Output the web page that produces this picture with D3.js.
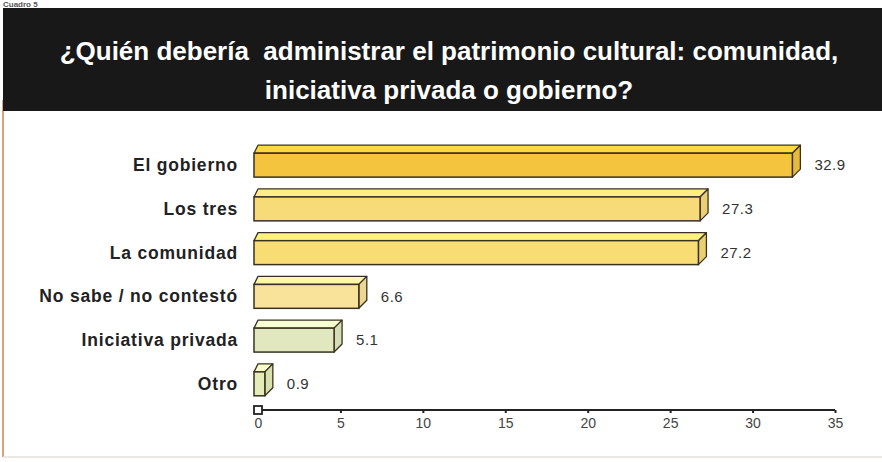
<!DOCTYPE html>
<html>
<head>
<meta charset="utf-8">
<script src="https://cdn.jsdelivr.net/npm/d3@7"></script>
<style>
  html, body { margin: 0; padding: 0; background: #fff; }
  svg { display: block; }
</style>
</head>
<body>
<svg id="chart" width="882" height="462"></svg>
<script>
const cornerLabel = "Cuadro 5";
const titleLines = ["¿Quién debería  administrar el patrimonio cultural: comunidad,", "iniciativa privada o gobierno?"];
const categories = ["El gobierno", "Los tres", "La comunidad", "No sabe / no contestó", "Iniciativa privada", "Otro"];
const values = [32.9, 27.3, 27.2, 6.6, 5.1, 0.9];
const valueLabels = ["32.9", "27.3", "27.2", "6.6", "5.1", "0.9"];
const barColors = ["#f4c43e", "#f7db78", "#f8dc74", "#f9e29a", "#e1e8c0", "#e4ecb8"];
const ticks = [0, 5, 10, 15, 20, 25, 30, 35];

const svg = d3.select("#chart");

// frame
svg.append("rect").attr("x", 0).attr("y", 0).attr("width", 882).attr("height", 462).attr("fill", "#fff");
svg.append("text").attr("x", 3).attr("y", 7).attr("font-family", "'Liberation Sans', Arial, sans-serif")
  .attr("font-weight", "bold").attr("font-size", 8).attr("fill", "#555").text(cornerLabel);
svg.append("line").attr("x1", 3).attr("x2", 3).attr("y1", 100).attr("y2", 457)
  .attr("stroke", "#e0a07a").attr("stroke-width", 2);
svg.append("line").attr("x1", 3).attr("x2", 882).attr("y1", 457).attr("y2", 457)
  .attr("stroke", "#e6e0dc").attr("stroke-width", 1.5);

// header
svg.append("rect").attr("x", 3).attr("y", 8).attr("width", 879).attr("height", 103).attr("fill", "#191818");
const titleFont = "'Liberation Sans Narrow', 'Arial Narrow', 'Liberation Sans', sans-serif";
svg.append("text").attr("x", 449).attr("y", 60).attr("text-anchor", "middle")
  .attr("fill", "#fff").attr("font-family", titleFont)
  .attr("font-weight", "bold").attr("font-size", 26).attr("xml:space", "preserve").text(titleLines[0]);
svg.append("text").attr("x", 449).attr("y", 99).attr("text-anchor", "middle")
  .attr("fill", "#fff").attr("font-family", titleFont)
  .attr("font-weight", "bold").attr("font-size", 26).text(titleLines[1]);

// scales
const x = d3.scaleLinear().domain([0, 35]).range([258, 835]);
const y = d3.scaleBand().domain(categories).range([143, 398]).paddingInner(0.27).paddingOuter(0.05);

const dx = 8, dy = 8;
const g = svg.append("g");
categories.forEach((c, i) => {
  const v = values[i];
  const yTop = y(c) + dy;            // top of front face
  const yBot = y(c) + y.bandwidth(); // bottom of front face
  const xl = x(0) - 4;
  const xr = Math.max(x(v) - dx, xl + 6);
  const xe = xr + dx;
  const col = barColors[i];
  const stroke = "#3a3220";
  // top face
  g.append("path").attr("d", `M${xl},${yTop} L${xl + 4},${yTop - dy} L${xe},${yTop - dy} L${xr},${yTop} Z`)
    .attr("fill", d3.color(col).brighter(0.25)).attr("stroke", stroke).attr("stroke-width", 1.3).attr("stroke-linejoin", "round");
  // side face
  g.append("path").attr("d", `M${xr},${yTop} L${xe},${yTop - dy} L${xe},${yBot - dy} L${xr},${yBot} Z`)
    .attr("fill", d3.color(col).darker(0.15)).attr("stroke", stroke).attr("stroke-width", 1.3).attr("stroke-linejoin", "round");
  // front face
  g.append("rect").attr("x", xl).attr("y", yTop).attr("width", xr - xl).attr("height", yBot - yTop)
    .attr("fill", col).attr("stroke", stroke).attr("stroke-width", 1.5);
  // category label
  g.append("text").attr("x", 238).attr("y", (yTop + yBot) / 2).attr("dy", "0.35em")
    .attr("text-anchor", "end").attr("font-family", "'Liberation Sans', Arial, sans-serif")
    .attr("font-weight", "bold").attr("font-size", 17.5).attr("letter-spacing", 0.8).attr("fill", "#222").text(c);
  // value label
  g.append("text").attr("x", x(v) + 14).attr("y", (yTop + yBot) / 2).attr("dy", "0.35em")
    .attr("font-family", "'Liberation Sans', Arial, sans-serif")
    .attr("font-size", 15).attr("letter-spacing", 0.5).attr("fill", "#333").text(valueLabels[i]);
});

// axis
const axisG = svg.append("g").attr("transform", "translate(0,410)");
axisG.call(d3.axisBottom(x).tickValues(ticks).tickSize(3).tickPadding(5).tickFormat(d3.format("d")));
axisG.select(".domain").attr("stroke", "#222").attr("stroke-width", 2).attr("d", `M${x(0)},0H${x(35)}`);
axisG.selectAll(".tick line").attr("stroke", "#222").attr("stroke-width", 2);
axisG.selectAll(".tick text").attr("font-family", "'Liberation Sans', Arial, sans-serif")
  .attr("font-size", 14).attr("fill", "#444");
axisG.append("rect").attr("x", x(0) - 4).attr("y", -4).attr("width", 8).attr("height", 8)
  .attr("fill", "#fff").attr("stroke", "#222").attr("stroke-width", 1.8);
</script>
</body>
</html>
